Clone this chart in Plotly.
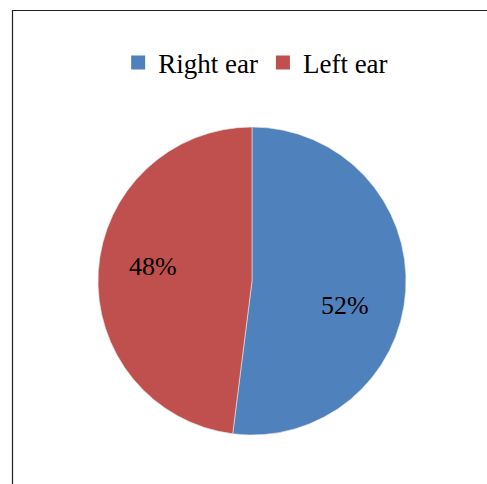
import plotly.graph_objects as go

labels = ["Right ear", "Left ear"]
values = [52, 48]
colors = ["#4F81BD", "#C0504D"]
# label centres, in pixels
label_px = [(345, 305), (153, 266)]

W, H = 487, 484
cx, cy, r = 252, 281, 154
FONT = "Liberation Serif"

fig = go.Figure()
fig.add_trace(go.Pie(
    labels=labels, values=values, sort=False, direction="clockwise", rotation=0,
    marker=dict(colors=colors, line=dict(color="#e8e8e8", width=0.6)),
    textinfo="none", hoverinfo="label+percent", showlegend=False,
    domain=dict(x=[(cx - r) / W, (cx + r) / W], y=[(H - cy - r) / H, (H - cy + r) / H]),
))
for lab, col in zip(labels, colors):
    fig.add_trace(go.Scatter(x=[None], y=[None], mode="markers", name=lab,
                             marker=dict(symbol="square", size=14, color=col)))

total = sum(values)
annotations = []
for v, (px, py) in zip(values, label_px):
    annotations.append(dict(text=f"{round(100 * v / total)}%", x=px / W, y=1 - py / H,
                            xref="paper", yref="paper", showarrow=False,
                            xanchor="center", yanchor="middle",
                            font=dict(family=FONT, size=26, color="black")))

fig.update_layout(
    width=W, height=H, margin=dict(l=0, r=0, t=0, b=0),
    paper_bgcolor="white", plot_bgcolor="white",
    font=dict(family=FONT, size=26, color="black"),
    xaxis=dict(visible=False), yaxis=dict(visible=False),
    showlegend=True,
    legend=dict(orientation="h", x=0.525, xanchor="center", y=1 - 63 / H, yanchor="middle",
                font=dict(family=FONT, size=27, color="black"),
                itemwidth=30, tracegroupgap=0, bgcolor="rgba(0,0,0,0)"),
    annotations=annotations,
    shapes=[dict(type="rect", xref="paper", yref="paper",
                 x0=12.5 / W, x1=1.05, y0=-0.05, y1=1 - 10.5 / H,
                 line=dict(color="#222222", width=1.2))],
)

fig.write_html("out.html")
